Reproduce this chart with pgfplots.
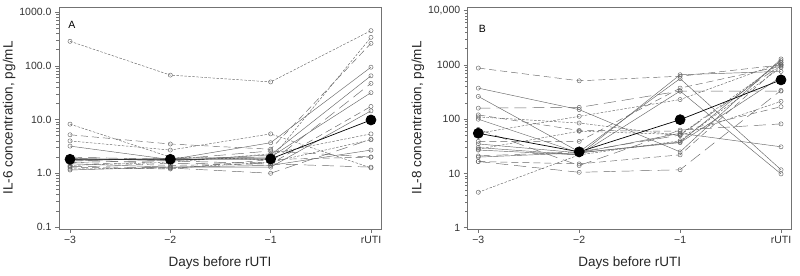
\documentclass[border=0pt]{standalone}
\usepackage{pgfplots}
\pgfplotsset{compat=1.18}
\usepackage{fontspec}
\setmainfont{Liberation Sans}
\definecolor{ln}{gray}{0.40}
\definecolor{fr}{gray}{0.45}
\tikzset{
  sA/.style={ln, line width=0.45pt, solid, mark=o, mark size=2.1bp, mark options={solid, draw=ln, fill=white}},
  sB/.style={ln, line width=0.45pt, dash pattern=on 7bp off 4bp, mark=o, mark size=2.1bp, mark options={solid, draw=ln, fill=white}},
  sC/.style={ln, line width=0.45pt, dash pattern=on 2.5bp off 1.5bp, mark=o, mark size=2.1bp, mark options={solid, draw=ln, fill=white}},
  sD/.style={ln, line width=0.45pt, dash pattern=on 12bp off 6bp, mark=o, mark size=2.1bp, mark options={solid, draw=ln, fill=white}},
  meanpl/.style={black, line width=0.7pt, solid, mark=*, mark size=5bp, mark options={solid, fill=black}},
}
\pgfplotsset{
  myaxis/.style={
    scale only axis, height=222bp,
    axis line style={fr, line width=0.6pt},
    tick style={fr, line width=0.5pt},
    tick align=outside,
    major tick length=4bp, minor tick length=2.5bp,
    xtick={-3,-2,-1,0},
    xticklabels={−3,−2,−1,rUTI},
    xtick pos=bottom, ytick pos=left,
    tick label style={font=\fontsize{10.5bp}{12bp}\selectfont, black!80},
    label style={font=\fontsize{13.5bp}{15bp}\selectfont, black!85},
    xlabel={Days before rUTI},
    xlabel style={yshift=-6bp},
    clip=false,
  },
}
\begin{document}
\begin{tikzpicture}
\path[use as bounding box] (0,0) rectangle (800bp,-276bp);
\begin{axis}[ymode=log, myaxis,
  at={(59bp,-7bp)}, anchor=north west, width=322bp,
  xmin=-3.11, xmax=0.10, ymin=0.0918, ymax=1239,
  ytick={0.1,1,10,100,1000},
  yticklabels={0.1,1.0,10.0,100.0,1000.0},
  ylabel={IL-6 concentration, pg/mL},
  ylabel style={yshift=-3bp},
]
\addplot[sC] coordinates {(-3,285) (-2,67) (-1,50) (0,450)};
\addplot[sC] coordinates {(-3,8.2) (-2,2.0) (-1,1.8) (0,338)};
\addplot[sB] coordinates {(-3,5.2) (-2,3.5) (-1,2.8) (0,261)};
\addplot[sC] coordinates {(-3,4.0) (-2,2.7) (-1,5.4) (0,1.26)};
\addplot[sA] coordinates {(-3,3.2) (-2,1.8) (-1,3.7) (0,94)};
\addplot[sA] coordinates {(-3,1.9) (-2,1.7) (-1,2.2) (0,65)};
\addplot[sD] coordinates {(-3,1.8) (-2,1.5) (-1,1.6) (0,47)};
\addplot[sA] coordinates {(-3,1.7) (-2,1.9) (-1,2.0) (0,31.6)};
\addplot[sB] coordinates {(-3,1.6) (-2,1.4) (-1,1.5) (0,17.5)};
\addplot[sA] coordinates {(-3,1.5) (-2,1.3) (-1,1.3) (0,14.5)};
\addplot[sC] coordinates {(-3,1.4) (-2,1.6) (-1,2.3) (0,5.4)};
\addplot[sD] coordinates {(-3,1.35) (-2,1.25) (-1,1.0) (0,4.3)};
\addplot[sA] coordinates {(-3,1.15) (-2,1.3) (-1,1.4) (0,2.7)};
\addplot[sB] coordinates {(-3,1.3) (-2,1.2) (-1,1.8) (0,2.0)};
\addplot[sD] coordinates {(-3,2.0) (-2,1.8) (-1,2.6) (0,2.0)};
\addplot[sD] coordinates {(-3,1.6) (-2,1.7) (-1,1.5) (0,1.3)};
\addplot[sC] coordinates {(-3,1.2) (-2,1.25) (-1,1.6) (0,4.2)};
\addplot[meanpl] coordinates {(-3,1.82) (-2,1.82) (-1,1.85) (0,9.8)};
\node[anchor=center, font=\fontsize{10.5bp}{12bp}\selectfont] at (axis description cs:0.04,0.92) {A};
\end{axis}
\begin{axis}[ymode=log, myaxis,
  at={(467.7bp,-7bp)}, anchor=north west, width=324bp,
  xmin=-3.105, xmax=0.106, ymin=0.946, ymax=11700,
  ytick={1,10,100,1000,10000},
  yticklabels={1,10,100,1000,{10,000}},
  ylabel={IL-8 concentration, pg/mL},
  ylabel style={yshift=-3bp},
]
\addplot[sB] coordinates {(-3,877) (-2,510) (-1,620) (0,1000)};
\addplot[sA] coordinates {(-3,374) (-2,150) (-1,25) (0,1290)};
\addplot[sA] coordinates {(-3,263) (-2,25) (-1,560) (0,11.7)};
\addplot[sD] coordinates {(-3,160) (-2,165) (-1,330) (0,330)};
\addplot[sB] coordinates {(-3,120) (-2,62) (-1,60) (0,170)};
\addplot[sC] coordinates {(-3,110) (-2,85) (-1,50) (0,213)};
\addplot[sC] coordinates {(-3,55) (-2,113) (-1,230) (0,1100)};
\addplot[sB] coordinates {(-3,39) (-2,39) (-1,374) (0,950)};
\addplot[sA] coordinates {(-3,30) (-2,22) (-1,660) (0,760)};
\addplot[sA] coordinates {(-3,27) (-2,22) (-1,330) (0,9.8)};
\addplot[sD] coordinates {(-3,21) (-2,25) (-1,51) (0,1000)};
\addplot[sB] coordinates {(-3,16.6) (-2,15) (-1,22) (0,1000)};
\addplot[sC] coordinates {(-3,4.5) (-2,22) (-1,40) (0,900)};
\addplot[sD] coordinates {(-3,16.6) (-2,10.5) (-1,11.7) (0,340)};
\addplot[sA] coordinates {(-3,35) (-2,24) (-1,37) (0,600)};
\addplot[sC] coordinates {(-3,28) (-2,60) (-1,52) (0,1100)};
\addplot[sA] coordinates {(-3,20) (-2,24) (-1,38) (0,1200)};
\addplot[sD] coordinates {(-3,65) (-2,14) (-1,63) (0,82)};
\addplot[sA] coordinates {(-3,100) (-2,24) (-1,55) (0,31)};
\addplot[meanpl] coordinates {(-3,55) (-2,25) (-1,98) (0,530)};
\node[anchor=center, font=\fontsize{10.5bp}{12bp}\selectfont] at (axis description cs:0.045,0.9) {B};
\end{axis}
\end{tikzpicture}
\end{document}
